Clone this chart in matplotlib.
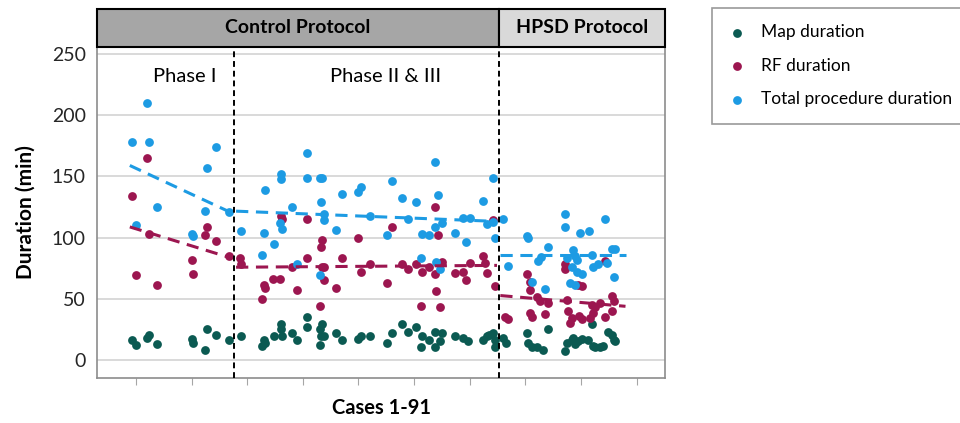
import numpy as np
import matplotlib
matplotlib.use("Agg")
from matplotlib import pyplot as plt
from matplotlib.patches import Rectangle

plt.rcParams['font.family'] = ['Lato', 'DejaVu Sans']

# ---- data (case position, minutes) ----
total_x = [1.3, 2.0, 4.0, 4.4, 5.8, 12.1, 12.3, 14.4, 14.8, 16.4, 18.7,
           20.9, 24.7, 25.0, 25.2, 26.8, 28.1, 28.1, 27.9, 28.3, 30.1, 31.0, 32.8, 32.8,
           35.1, 35.5, 35.3, 35.8, 35.8, 35.1, 38.0, 39.1, 41.9, 42.5, 44.1, 47.2, 48.1,
           49.9, 50.9, 52.4, 53.5, 54.7, 53.3, 55.8, 56.3, 55.8, 57.1, 56.0, 56.7, 59.4,
           60.8, 62.1, 61.4, 64.4, 65.1, 66.2, 66.2, 66.6,
           68.0, 68.9, 72.3, 72.5, 73.2, 74.3, 74.9, 75.6, 76.0, 79.2, 79.2, 79.5, 80.6,
           81.0, 81.2, 80.4, 81.2, 82.2, 80.1, 81.0, 81.9, 83.5, 86.4, 83.9, 84.2, 85.1,
           86.6, 87.6, 88.2, 87.9]
total_y = [178, 110, 210, 178, 125, 103, 101, 122, 157, 174, 121,
           105, 86, 104, 139, 95, 152, 148, 112, 107, 125, 78, 169, 149,
           149, 149, 129, 119, 114, 69, 106, 136, 137, 141, 118, 102, 146,
           132, 115, 129, 103, 102, 83, 162, 135, 109, 112, 80, 74, 104,
           116, 116, 96, 130, 111, 149, 113, 100,
           115, 77, 101, 100, 64, 81, 84, 58, 92, 119, 109, 83, 90,
           85, 82, 76, 72, 70, 63, 61, 104, 105, 115, 86, 76, 78,
           79, 91, 91, 68]

rf_x = [1.3, 2.0, 4.0, 4.4, 5.8, 12.1, 12.3, 14.4, 14.8, 16.4, 18.7,
        20.7, 20.9, 25.0, 25.2, 24.7, 26.7, 27.9, 28.1, 28.3, 30.1, 31.0, 32.8, 32.8,
        35.5, 35.3, 35.5, 35.8, 35.8, 35.1, 38.0, 39.1, 41.9, 42.5, 44.1, 47.2, 48.1,
        49.9, 50.9, 52.4, 53.5, 54.7, 53.3, 55.8, 56.3, 55.8, 57.1, 56.0, 56.7, 59.4,
        60.8, 61.4, 62.1, 64.4, 64.8, 65.1, 66.2, 66.6,
        68.4, 68.9, 72.3, 72.9, 72.9, 74.1, 74.7, 76.0, 72.9, 73.2, 75.6, 79.2, 79.2,
        79.5, 79.7, 80.4, 80.1, 81.5, 82.2, 83.9, 84.6, 85.5, 84.2, 83.7, 86.4, 86.4,
        87.6, 87.5, 87.9, 81.7, 82.2]
rf_y = [134, 69, 165, 103, 61, 82, 70, 102, 109, 97, 85,
        83, 78, 61, 59, 50, 66, 66, 118, 115, 76, 57, 115, 83,
        98, 92, 76, 76, 65, 44, 59, 83, 100, 72, 78, 63, 109,
        78, 74, 78, 72, 76, 44, 125, 102, 70, 80, 56, 43, 71,
        72, 65, 79, 85, 79, 71, 114, 60,
        35, 33, 70, 64, 57, 51, 48, 46, 38, 35, 37, 78, 74,
        49, 40, 34, 30, 61, 60, 45, 43, 46, 38, 34, 81, 35,
        40, 52, 48, 36, 33]

map_x = [1.3, 2.0, 4.0, 4.4, 5.8, 12.1, 12.3, 14.4, 14.8, 16.4, 18.7,
         20.9, 24.7, 25.0, 25.2, 26.8, 28.1, 28.1, 28.3, 30.1, 31.0, 32.8, 32.8,
         35.1, 35.5, 35.3, 35.8, 35.1, 38.0, 39.1, 41.9, 42.5, 44.1, 47.2, 48.1,
         49.9, 50.9, 52.4, 53.5, 54.7, 53.3, 55.8, 57.1, 56.6, 55.8, 59.4, 60.8,
         61.7, 64.4, 65.1, 65.5, 66.6, 66.6, 66.2,
         68.0, 68.6, 72.3, 72.5, 73.2, 74.1, 75.2, 76.0, 79.2, 79.5, 80.4, 80.6,
         81.0, 81.5, 82.2, 83.3, 83.9, 84.2, 84.6, 85.5, 86.0, 86.8, 87.5, 87.9, 88.2]
map_y = [16, 12, 18, 20, 13, 17, 14, 8, 25, 20, 16,
         19, 11, 16, 14, 19, 29, 25, 19, 22, 16, 35, 27,
         25, 29, 19, 19, 12, 22, 16, 17, 19, 19, 14, 22,
         29, 23, 27, 19, 16, 10, 23, 22, 15, 10, 19, 18,
         15, 16, 19, 20, 16, 10, 22,
         18, 14, 22, 14, 10, 10, 8, 25, 7, 14, 16, 18,
         13, 15, 17, 16, 29, 11, 10, 10, 11, 23, 20, 16, 15]

# trend lines per phase: (start, end)
trend_x = [(0.9, 19.3), (20.0, 66.9), (67.5, 90.0)]
trend_total = [(159, 120), (121.6, 113.2), (86, 86)]
trend_rf = [(108.7, 83), (75.7, 77.2), (52.5, 43.7)]

phase_lines = [19.6, 67.3]
phase_names = ["Phase I", "Phase II & III"]
phase_centers = [10.8, 46.8]
protocols = ["Control Protocol", "HPSD Protocol"]
yticks = [0, 50, 100, 150, 200, 250]

c_map = '#0b5a52'
c_rf = '#9c1650'
c_tot = '#1d9be3'

fig = plt.figure(figsize=(9.6, 4.23), dpi=100)
ax = fig.add_axes([97/960, 45/423, 568/960, 331/423])

ax.set_xlim(-5, 97.1)
ax.set_ylim(-15, 256)

for t in yticks:
    ax.axhline(t, color='#d9d9d9', lw=1.4, zorder=0)

ms = 40
ax.scatter(map_x, map_y, s=ms, color=c_map, zorder=3, label='Map duration', linewidths=0)
ax.scatter(rf_x, rf_y, s=ms, color=c_rf, zorder=3, label='RF duration', linewidths=0)
ax.scatter(total_x, total_y, s=ms, color=c_tot, zorder=3, label='Total procedure duration', linewidths=0)

for xs, tt, tr in zip(trend_x, trend_total, trend_rf):
    ax.plot(xs, tt, color=c_tot, lw=2.2, ls=(0, (4, 2.5)), zorder=4)
    ax.plot(xs, tr, color=c_rf, lw=2.2, ls=(0, (4, 2.5)), zorder=4)

for px in phase_lines:
    ax.axvline(px, color='black', lw=1.4, ls=(0, (3, 2)), zorder=5)

for name, cx in zip(phase_names, phase_centers):
    ax.text(cx, 232, name, ha='center', va='center', fontsize=14.5)

# header boxes
tr = ax.get_xaxis_transform()
edges = [-5, phase_lines[1], 97.1]
fills = ['#a6a6a6', '#d9d9d9']
for i in range(2):
    ax.add_patch(Rectangle((edges[i], 1.0), edges[i+1]-edges[i], 0.115, transform=tr,
                           facecolor=fills[i], edgecolor='black', lw=1.5, clip_on=False, zorder=6))
    ax.text((edges[i]+edges[i+1])/2, 1.0575, protocols[i], transform=tr, ha='center', va='center',
            fontsize=14, fontweight='bold', zorder=7)

ax.set_yticks(yticks)
ax.set_xticks(np.arange(2, 93, 10))
ax.set_xticklabels([])
ax.tick_params(axis='y', length=0, labelsize=14, pad=8, labelcolor='#262626')
ax.tick_params(axis='x', length=5, color='#a6a6a6', direction='out')
for s in ax.spines.values():
    s.set_color('#8c8c8c')
    s.set_linewidth(1.2)
ax.spines['top'].set_visible(False)

ax.set_ylabel("Duration (min)", fontsize=15, fontweight='bold', labelpad=12)
ax.set_xlabel("Cases 1-91", fontsize=14.5, fontweight='bold', labelpad=6)

leg = fig.legend(loc='upper left', bbox_to_anchor=(712/960, 1 - 8/423), frameon=True, fancybox=False,
                 fontsize=12.5, markerscale=1.0, handletextpad=0.9, labelspacing=1.0,
                 borderpad=0.95, handlelength=1.0, borderaxespad=0)
leg.get_frame().set_edgecolor('#808080')
leg.get_frame().set_linewidth(1.2)

fig.savefig('out.png', dpi=100)
